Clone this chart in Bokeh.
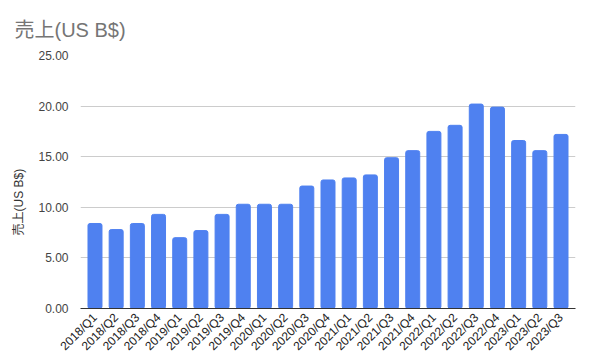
import math
from bokeh.plotting import figure
from bokeh.models import ColumnDataSource, FactorRange, Range1d, SingleIntervalTicker, NumeralTickFormatter, Title
from bokeh.embed import file_html
from bokeh.resources import INLINE

quarters = ["2018/Q1", "2018/Q2", "2018/Q3", "2018/Q4",
            "2019/Q1", "2019/Q2", "2019/Q3", "2019/Q4",
            "2020/Q1", "2020/Q2", "2020/Q3", "2020/Q4",
            "2021/Q1", "2021/Q2", "2021/Q3", "2021/Q4",
            "2022/Q1", "2022/Q2", "2022/Q3", "2022/Q4",
            "2023/Q1", "2023/Q2", "2023/Q3"]
sales = [8.4, 7.8, 8.4, 9.3,
         7.0, 7.7, 9.3, 10.3,
         10.3, 10.3, 12.1, 12.7,
         12.9, 13.2, 14.9, 15.6,
         17.5, 18.1, 20.2, 19.9,
         16.6, 15.6, 17.2]

TITLE = "売上(US B$)"
FONT = "Liberation Sans, Noto Sans CJK JP"

source = ColumnDataSource(data=dict(q=quarters, v=sales))

p = figure(width=593, height=361, output_backend="svg", toolbar_location=None,
           x_range=FactorRange(factors=quarters, range_padding=0.016),
           y_range=Range1d(0, 25),
           min_border_left=78, min_border_right=18, min_border_top=55,
           min_border_bottom=53,
           title=TITLE)

p.vbar(x="q", top="v", width=0.66, source=source, color="#4f81f0", border_radius=2)

p.title.text_font = FONT
p.title.text_font_size = "20px"
p.title.text_font_style = "normal"
p.title.text_color = "#757575"
p.title.align = "left"
p.title.offset = -66
p.title.standoff = 29

p.outline_line_color = None
p.background_fill_color = "white"
p.border_fill_color = "white"

p.yaxis.ticker = SingleIntervalTicker(interval=5)
p.yaxis.formatter = NumeralTickFormatter(format="0.00")
p.yaxis.axis_line_color = None
p.yaxis.major_tick_line_color = None
p.yaxis.minor_tick_line_color = None
p.yaxis.major_label_text_font = FONT
p.yaxis.major_label_text_font_size = "12px"
p.yaxis.major_label_text_color = "#444444"
p.yaxis.major_label_standoff = 6

ytitle = Title(text=TITLE, align="left", offset=73, standoff=19,
               text_font=FONT, text_font_size="12px", text_font_style="normal",
               text_color="#333333")
p.add_layout(ytitle, "left")

p.xaxis.axis_line_color = "#333333"
p.xaxis.major_tick_line_color = None
p.xaxis.minor_tick_line_color = None
p.xaxis.major_label_orientation = math.pi / 4
p.xaxis.major_label_text_font = FONT
p.xaxis.major_label_text_font_size = "12px"
p.xaxis.major_label_text_color = "#222222"
p.xaxis.major_label_standoff = 1

p.xgrid.grid_line_color = None
p.ygrid.grid_line_color = "#cccccc"

open("out.html", "w").write(file_html(p, INLINE))
